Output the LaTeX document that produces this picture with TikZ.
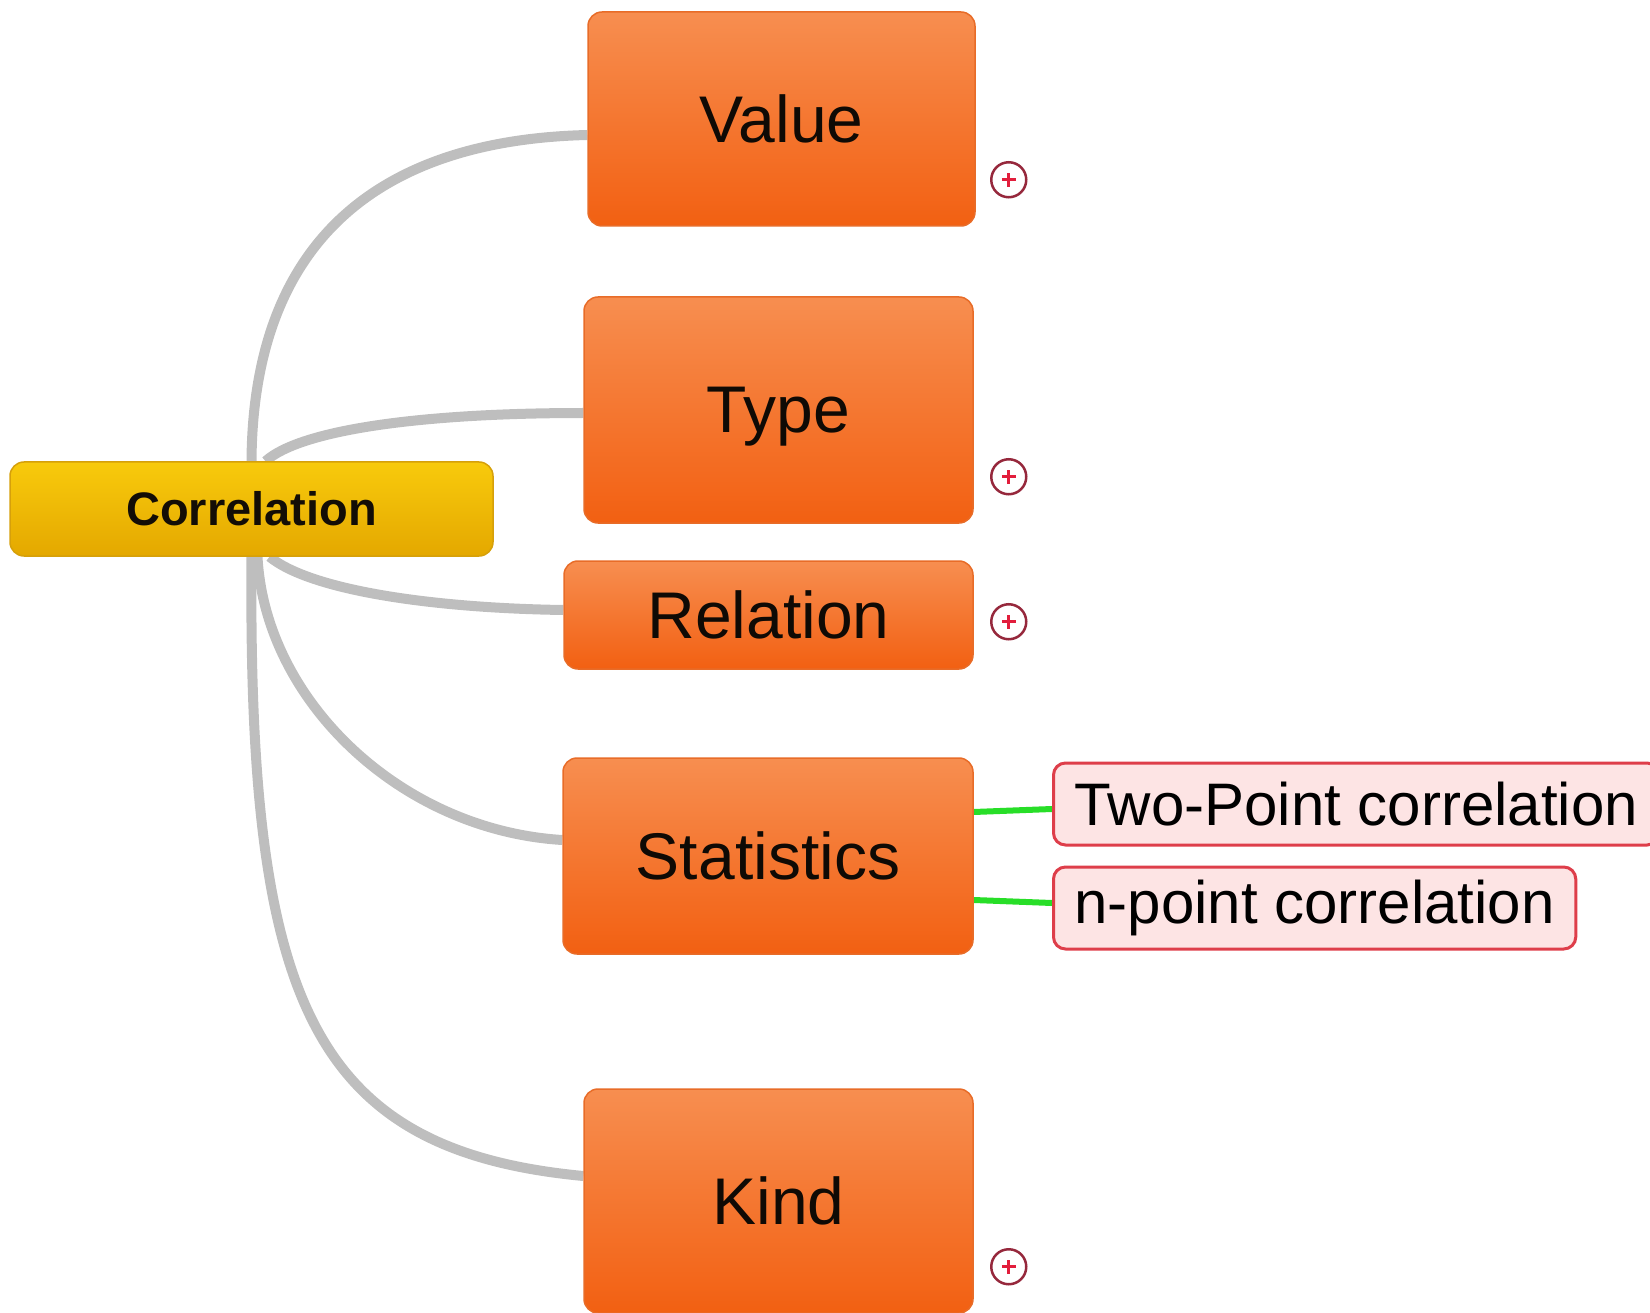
\documentclass[tikz,border=0pt]{standalone}
\usepackage{fontspec}
\setmainfont{Liberation Sans}
\usepackage{xcolor}
\usetikzlibrary{positioning,backgrounds,calc}

\definecolor{branchtop}{RGB}{247,142,80}
\definecolor{branchbot}{RGB}{242,96,18}
\definecolor{branchline}{RGB}{232,108,40}
\definecolor{roottop}{RGB}{248,202,12}
\definecolor{rootbot}{RGB}{228,168,0}
\definecolor{rootline}{RGB}{214,160,10}
\definecolor{leaffill}{RGB}{253,228,228}
\definecolor{leafline}{RGB}{222,62,74}
\definecolor{plusring}{RGB}{150,40,60}
\definecolor{plusred}{RGB}{226,30,60}
\definecolor{linkgray}{RGB}{190,190,190}
\definecolor{linkgreen}{RGB}{40,222,40}

\begin{document}
\begin{tikzpicture}[
    x=1pt, y=-1pt,
    rootbox/.style={
        draw=rootline,
        line width=1.5pt,
        rounded corners=14pt,
        top color=roottop,
        bottom color=rootbot,
        minimum width=483pt,
        minimum height=94pt,
        font=\fontsize{47}{52}\selectfont\bfseries,
        text=black!90!brown
    },
    branchbox/.style={
        draw=branchline,
        line width=1.5pt,
        rounded corners=14pt,
        top color=branchtop,
        bottom color=branchbot,
        minimum width=389pt,
        text depth=0pt,
        font=\fontsize{66}{72}\selectfont,
        text=black!92!brown
    },
    leafbox/.style={
        draw=leafline,
        line width=3pt,
        rounded corners=12pt,
        fill=leaffill,
        minimum height=82pt,
        inner xsep=21pt,
        font=\fontsize{60}{66}\selectfont
    },
    plusmark/.style={
        circle,
        draw=plusring,
        line width=2.5pt,
        fill=white,
        minimum size=35pt,
        inner sep=0pt,
        path picture={
            \draw[plusred, line width=3pt]
                ([xshift=-7pt]path picture bounding box.center) -- ([xshift=7pt]path picture bounding box.center)
                ([yshift=-7pt]path picture bounding box.center) -- ([yshift=7pt]path picture bounding box.center);
        }
    },
    link/.style={draw=linkgray, line width=10pt},
    sublink/.style={draw=linkgreen, line width=6pt}
]

\useasboundingbox (0,0) rectangle (1650,1313);

% Root
\node[rootbox] (root) at (251.5,509) {Correlation};

% Branches
\node[branchbox, minimum width=387pt, minimum height=214pt] (value) at (781.5,119) {Value};
\node[branchbox, minimum height=226pt] (type) at (778.5,410) {Type};
\node[branchbox, minimum width=409pt, minimum height=108pt] (relation) at (768.5,615) {Relation};
\node[branchbox, minimum width=410pt, minimum height=196pt] (stats) at (768,856) {Statistics};
\node[branchbox, minimum height=224pt] (kind) at (778.5,1201) {Kind};

% Collapsed markers
\node[plusmark] (valueplus) at ($(value.south east)+(33,-47)$) {};
\node[plusmark] (typeplus) at ($(type.south east)+(35,-47)$) {};
\node[plusmark] (relationplus) at ($(relation.south east)+(35,-48)$) {};
\node[plusmark] (kindplus) at ($(kind.south east)+(35,-47)$) {};

% Leaves of Statistics
\node[leafbox, anchor=west] (twopoint) at (1052,804) {Two-Point correlation};
\node[leafbox, anchor=west] (npoint) at (1052,908) {n-point correlation};

% Connectors
\begin{scope}[on background layer]
\draw[link] (root.north) .. controls (253,240) and (380,140) .. ([yshift=-16pt]value.west);
\draw[link] ([xshift=14pt]root.north) .. controls (300,430) and (420,413) .. ([yshift=-3pt]type.west);
\draw[link] ([xshift=18pt]root.south) .. controls (310,590) and (430,608) .. ([yshift=5pt]relation.west);
\draw[link] ([xshift=6pt]root.south) .. controls (265,700) and (400,830) .. ([yshift=16pt]stats.west);
\draw[link] (root.south) .. controls (248,1000) and (310,1150) .. ([yshift=25pt]kind.west);
\draw[sublink] ([yshift=44pt]stats.east) -- ([yshift=-5pt]twopoint.west);
\draw[sublink] ([yshift=-44pt]stats.east) -- ([yshift=5pt]npoint.west);
\end{scope}

\end{tikzpicture}
\end{document}
